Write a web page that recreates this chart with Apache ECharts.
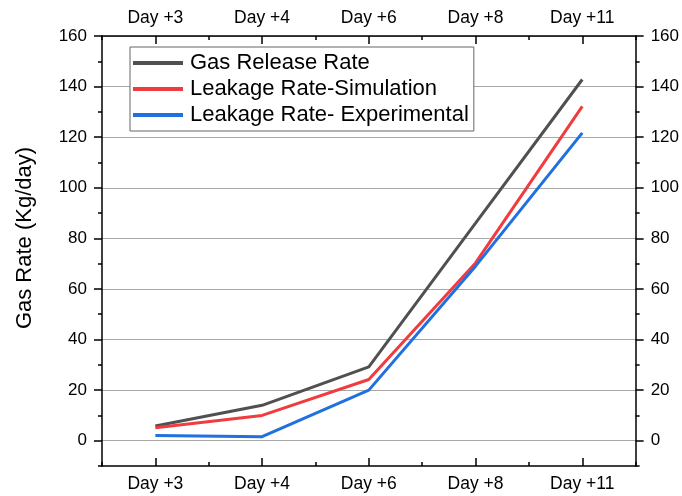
<!DOCTYPE html>
<html>
<head>
<meta charset="utf-8">
<script src="https://cdn.jsdelivr.net/npm/echarts@6/dist/echarts.min.js"></script>
<style>
  html, body { margin: 0; padding: 0; background: #fff; }
  #chart { width: 682px; height: 496px; }
</style>
</head>
<body>
<div id="chart"></div>
<script>
// Sampling days and gas rates (Kg/day)
const days = ['Day +3', 'Day +4', 'Day +6', 'Day +8', 'Day +11'];
const gasRelease = [5.8, 14.0, 29.2, 86.0, 142.8];
const leakSimulation = [5.1, 10.0, 24.2, 70.3, 132.2];
const leakExperimental = [2.1, 1.6, 20.0, 69.0, 121.7];
const majorTicks = [0, 20, 40, 60, 80, 100, 120, 140, 160];
const minorTicks = [-10, 0, 10, 20, 30, 40, 50, 60, 70, 80, 90, 100, 110, 120, 130, 140, 150, 160];

const FONT = '"Liberation Sans", Arial, sans-serif';
const AX = { color: '#000', width: 1.5 };

function catAxis(pos, withLabels, aligned, len, show) {
  return {
    type: 'category', data: days, position: pos, boundaryGap: true,
    axisLine: { show: show, onZero: false, lineStyle: AX },
    axisTick: { show: true, inside: true, alignWithLabel: aligned, length: len, lineStyle: AX },
    axisLabel: { show: withLabels, color: '#000', fontSize: 17.5, fontFamily: FONT, margin: 9 },
    splitLine: { show: false }
  };
}

function valAxis(pos, withLabels, ticks, len, show, grid) {
  return {
    type: 'value', position: pos, min: -10, max: 160, interval: 10,
    axisLine: { show: show, onZero: false, lineStyle: AX },
    axisTick: { show: true, inside: false, length: len, customValues: ticks, lineStyle: AX },
    axisLabel: { show: withLabels, customValues: majorTicks, color: '#000', fontSize: 17, fontFamily: FONT, margin: 15 },
    splitLine: { show: grid, lineStyle: { color: '#a8a8a8', width: 1 } }
  };
}

const chart = echarts.init(document.getElementById('chart'), null, { renderer: 'canvas' });
chart.setOption({
  backgroundColor: '#fff',
  animation: false,
  grid: { left: 102, right: 46, top: 36, bottom: 30, containLabel: false },
  xAxis: [
    catAxis('bottom', true, true, 8, true),
    catAxis('bottom', false, false, 4, false),
    catAxis('top', true, true, 8, true),
    catAxis('top', false, false, 4, false)
  ],
  yAxis: [
    valAxis('left', true, majorTicks, 8, true, true),
    valAxis('left', false, minorTicks, 4, false, false),
    valAxis('right', true, majorTicks, 8, true, false),
    valAxis('right', false, minorTicks, 4, false, false)
  ],
  graphic: [{
    type: 'text',
    rotation: Math.PI / 2,
    x: 25, y: 238,
    style: { text: 'Gas Rate (Kg/day)', fill: '#000', font: '22px ' + FONT, align: 'center', verticalAlign: 'middle' }
  }],
  legend: {
    orient: 'vertical', left: 130, top: 47,
    padding: [5, 5, 5, 3], itemGap: 4,
    itemWidth: 50, itemHeight: 4, icon: 'rect',
    backgroundColor: '#fff', borderColor: '#666', borderWidth: 1,
    textStyle: { fontSize: 22, fontFamily: FONT, color: '#000', padding: [0, 0, 0, 2] },
    data: ['Gas Release Rate', 'Leakage Rate-Simulation', 'Leakage Rate- Experimental']
  },
  series: [
    { name: 'Gas Release Rate', type: 'line', data: gasRelease, symbol: 'none',
      lineStyle: { color: '#505050', width: 3 }, itemStyle: { color: '#505050' }, z: 3 },
    { name: 'Leakage Rate-Simulation', type: 'line', data: leakSimulation, symbol: 'none',
      lineStyle: { color: '#f03c3f', width: 3 }, itemStyle: { color: '#f03c3f' }, z: 4 },
    { name: 'Leakage Rate- Experimental', type: 'line', data: leakExperimental, symbol: 'none',
      lineStyle: { color: '#2070e0', width: 3 }, itemStyle: { color: '#2070e0' }, z: 5 }
  ]
});
</script>
</body>
</html>
